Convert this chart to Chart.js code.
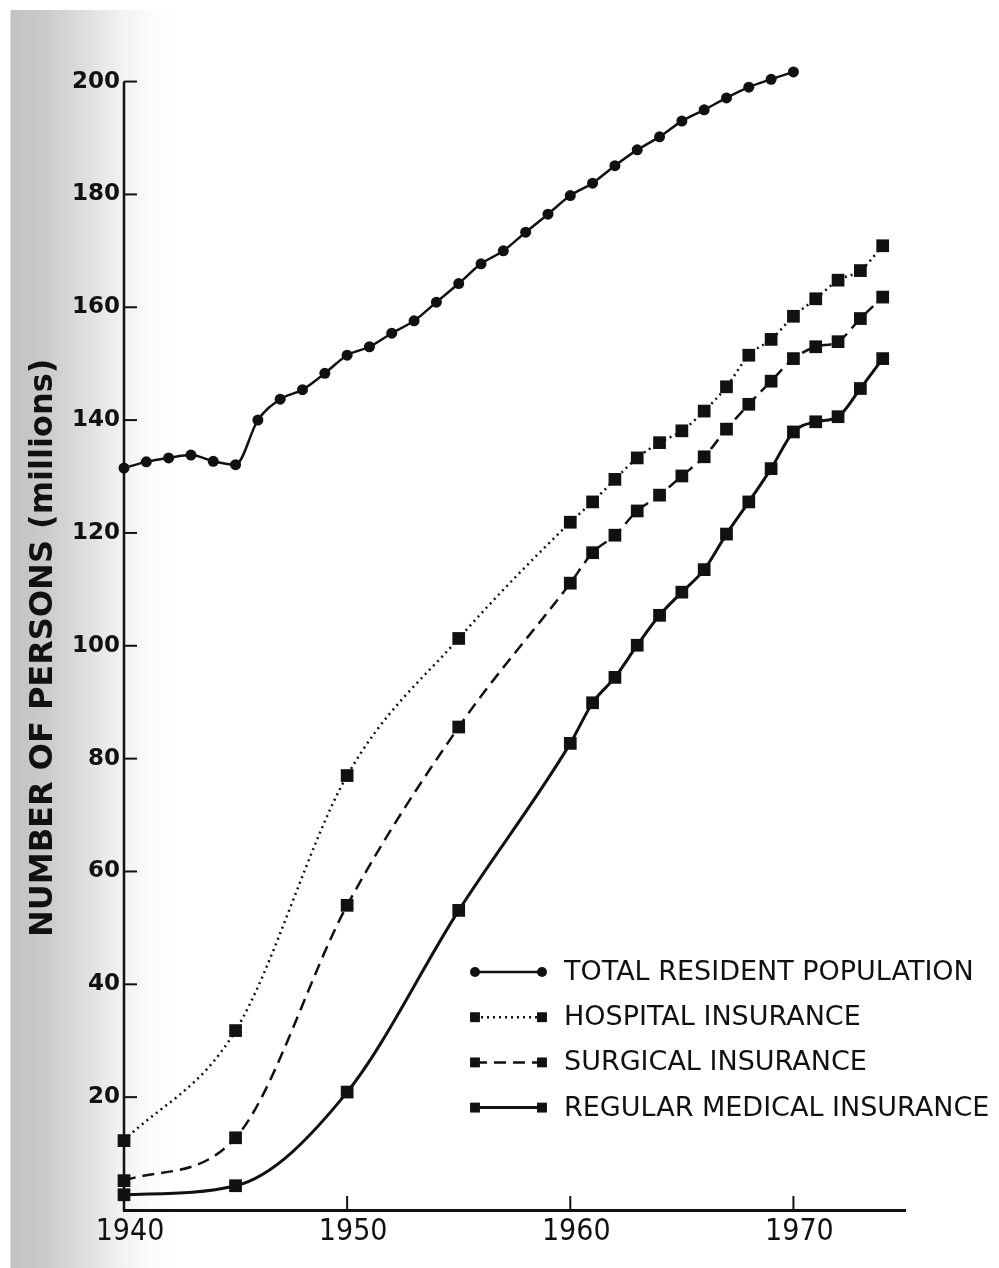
<!DOCTYPE html>
<html>
<head>
<meta charset="utf-8">
<title>Number of persons with health insurance, 1940-1974</title>
<script src="https://cdn.jsdelivr.net/npm/chart.js@4.4.1/dist/chart.umd.min.js"></script>
<style>
  html, body { margin: 0; padding: 0; }
  body {
    width: 999px; height: 1268px; overflow: hidden;
    background:
      linear-gradient(to bottom, #fff 0, #fff 10px, transparent 10px),
      linear-gradient(to right, #fff 0, #fff 10px, #c3c3c3 11px, #cacaca 45px, #dedede 85px, #f1f1f1 120px, #fbfbfb 150px, #fff 175px);
  }
  #wrap { position: relative; width: 999px; height: 1268px; }
  canvas { display: block; }
</style>
</head>
<body>
<div id="wrap"><canvas id="chart" width="999" height="1268"></canvas></div>
<script>
// Total resident population, yearly
const popYears = [1940, 1941, 1942, 1943, 1944, 1945, 1946, 1947, 1948, 1949,
                  1950, 1951, 1952, 1953, 1954, 1955, 1956, 1957, 1958, 1959,
                  1960, 1961, 1962, 1963, 1964, 1965, 1966, 1967, 1968, 1969, 1970];
const popValues = [131.5, 132.6, 133.3, 133.8, 132.7, 132.1, 140.0, 143.7, 145.4, 148.3,
                   151.5, 153.0, 155.4, 157.6, 160.9, 164.2, 167.7, 170.0, 173.3, 176.5,
                   179.8, 182.0, 185.1, 187.9, 190.2, 193.0, 195.0, 197.1, 199.0, 200.4, 201.7];

// Insurance enrolment (millions)
const insYears = [1940, 1945, 1950, 1955, 1960, 1961, 1962, 1963, 1964, 1965,
                  1966, 1967, 1968, 1969, 1970, 1971, 1972, 1973, 1974];
const hospitalValues = [12.3, 31.8, 77.0, 101.3, 121.9, 125.5, 129.5, 133.3, 136.0, 138.1,
                        141.6, 145.9, 151.5, 154.3, 158.4, 161.5, 164.8, 166.5, 170.9];
const surgicalValues = [5.2, 12.8, 54.0, 85.6, 111.1, 116.5, 119.6, 123.9, 126.7, 130.1,
                        133.5, 138.4, 142.8, 146.9, 150.9, 153.0, 153.9, 158.0, 161.8];
const medicalValues = [2.7, 4.3, 20.9, 53.1, 82.7, 89.9, 94.4, 100.1, 105.4, 109.5,
                       113.5, 119.8, 125.5, 131.4, 137.9, 139.7, 140.6, 145.6, 150.9];

// Axis ticks
const yearTicks = [1940, 1950, 1960, 1970];
const valueTicks = [20, 40, 60, 80, 100, 120, 140, 160, 180, 200];
const axisTop = 200;   // the vertical axis line stops here
const valueMax = 204;  // headroom so the 1970 population point stays visible

const yTitle = 'NUMBER OF PERSONS (millions)';
const labels = ['TOTAL RESIDENT POPULATION', 'HOSPITAL INSURANCE',
                'SURGICAL INSURANCE', 'REGULAR MEDICAL INSURANCE'];

const INK = '#111111';
const pair = (xs, ys) => xs.map((x, i) => ({ x: x, y: ys[i] }));

// Vertical axis line (0..200), short inward tick marks, rotated axis title
const axisMarks = {
  id: 'axisMarks',
  afterDraw(chart) {
    const { ctx } = chart;
    const xs = chart.scales.x, ys = chart.scales.y;
    const yBottom = ys.getPixelForValue(0), yTop = ys.getPixelForValue(axisTop);
    ctx.save();
    ctx.strokeStyle = INK;
    ctx.lineWidth = 2.5;
    ctx.beginPath();
    ctx.moveTo(xs.left, yBottom + 1);
    ctx.lineTo(xs.left, yTop);
    ctx.stroke();
    ctx.lineWidth = 2;
    ys.ticks.forEach(t => {
      const py = ys.getPixelForValue(t.value);
      ctx.beginPath();
      ctx.moveTo(xs.left, py);
      ctx.lineTo(xs.left + 13, py);
      ctx.stroke();
    });
    xs.ticks.forEach(t => {
      if (t.value === xs.min) return;
      const px = xs.getPixelForValue(t.value);
      ctx.beginPath();
      ctx.moveTo(px, ys.bottom);
      ctx.lineTo(px, ys.bottom - 14);
      ctx.stroke();
    });
    // axis title, centred on the 0..200 span of the axis
    ctx.translate(44, (yBottom + yTop) / 2 + 2);
    ctx.rotate(-Math.PI / 2);
    ctx.fillStyle = INK;
    ctx.font = 'bold 32px "DejaVu Sans", sans-serif';
    ctx.textAlign = 'center';
    ctx.textBaseline = 'middle';
    ctx.fillText(yTitle, 0, 0);
    ctx.restore();
  }
};

// Key in the lower right: line sample with end markers, then the label
const keyBox = {
  id: 'keyBox',
  afterDraw(chart) {
    const { ctx } = chart;
    const x0 = 475, x1 = 542, tx = 564, y0 = 972, step = 45.2;
    ctx.save();
    chart.data.datasets.forEach((ds, i) => {
      const y = y0 + i * step;
      ctx.beginPath();
      ctx.setLineDash(ds.borderDash || []);
      ctx.lineWidth = ds.borderWidth;
      ctx.strokeStyle = INK;
      ctx.moveTo(x0, y);
      ctx.lineTo(x1, y);
      ctx.stroke();
      ctx.setLineDash([]);
      ctx.fillStyle = INK;
      const r = ds.pointStyle === 'rect' ? 7 : 5;
      Chart.helpers.drawPoint(ctx, { pointStyle: ds.pointStyle, radius: r, rotation: 0, borderWidth: 0 }, x0, y);
      Chart.helpers.drawPoint(ctx, { pointStyle: ds.pointStyle, radius: r, rotation: 0, borderWidth: 0 }, x1, y);
      ctx.font = '27px "DejaVu Sans", sans-serif';
      ctx.textBaseline = 'middle';
      ctx.textAlign = 'left';
      ctx.fillText(ds.label, tx, y + 1);
    });
    ctx.restore();
  }
};

const common = {
  borderColor: INK,
  backgroundColor: INK,
  pointBackgroundColor: INK,
  pointBorderColor: INK,
  pointBorderWidth: 0,
  cubicInterpolationMode: 'monotone',
  fill: false,
  clip: false
};

new Chart(document.getElementById('chart'), {
  type: 'line',
  data: {
    datasets: [
      Object.assign({}, common, {
        label: labels[0],
        data: pair(popYears, popValues),
        borderWidth: 2.5,
        pointStyle: 'circle',
        pointRadius: 5.5
      }),
      Object.assign({}, common, {
        label: labels[1],
        data: pair(insYears, hospitalValues),
        borderWidth: 2.5,
        borderDash: [2, 4],
        pointStyle: 'rect',
        pointRadius: 9
      }),
      Object.assign({}, common, {
        label: labels[2],
        data: pair(insYears, surgicalValues),
        borderWidth: 2.5,
        borderDash: [12, 7],
        pointStyle: 'rect',
        pointRadius: 9
      }),
      Object.assign({}, common, {
        label: labels[3],
        data: pair(insYears, medicalValues),
        borderWidth: 3,
        pointStyle: 'rect',
        pointRadius: 9
      })
    ]
  },
  options: {
    responsive: false,
    animation: false,
    devicePixelRatio: 1,
    layout: { padding: { top: 59, right: 94, bottom: 0, left: 0 } },
    plugins: {
      legend: { display: false },
      tooltip: { enabled: false }
    },
    scales: {
      x: {
        type: 'linear',
        min: 1940,
        max: 1975,
        afterBuildTicks: s => { s.ticks = yearTicks.map(v => ({ value: v })); },
        afterFit: s => { s.height = 58; },
        grid: { display: false, drawTicks: false },
        border: { display: true, color: INK, width: 3 },
        ticks: {
          color: INK,
          padding: 4,
          labelOffset: 6,
          maxRotation: 0,
          autoSkip: false,
          font: { family: "'DejaVu Sans Condensed', 'Liberation Sans Narrow', 'DejaVu Sans', sans-serif", size: 30 },
          callback: v => String(v)
        }
      },
      y: {
        type: 'linear',
        min: 0,
        max: valueMax,
        afterBuildTicks: s => { s.ticks = valueTicks.map(v => ({ value: v })); },
        afterFit: s => { s.width = 124; },
        grid: { display: false, drawTicks: false },
        border: { display: false },
        ticks: {
          color: INK,
          padding: 4,
          autoSkip: false,
          font: { family: "'DejaVu Sans', sans-serif", size: 23, weight: 'bold' },
          callback: v => String(v)
        }
      }
    }
  },
  plugins: [axisMarks, keyBox]
});
</script>
</body>
</html>
